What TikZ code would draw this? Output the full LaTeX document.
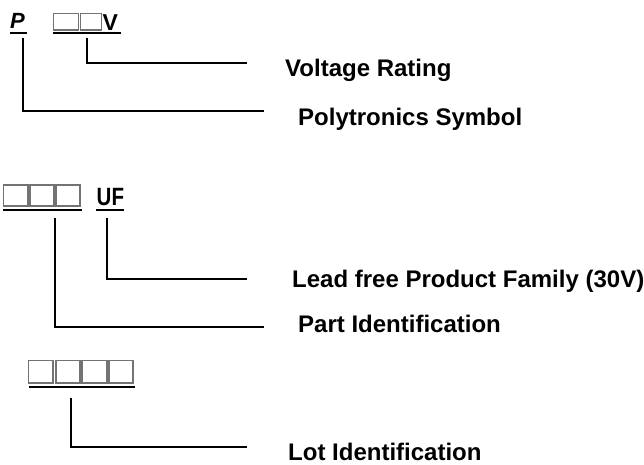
\documentclass[tikz,border=0pt]{standalone}
\usepackage{fontspec}
\setmainfont{Liberation Sans}
\begin{document}
\begin{tikzpicture}[x=1pt,y=-1pt,
  lbl/.style={anchor=base west,inner sep=0pt,font=\fontsize{24}{28}\selectfont\bfseries},
  code/.style={anchor=base west,inner sep=0pt,font=\fontsize{23}{28}\selectfont\bfseries},
  cbox/.style={draw={rgb,255:red,115;green,115;blue,115},line width=1.3pt},
  uline/.style={line width=2pt},
  conn/.style={line width=1.5pt}]
\useasboundingbox (0,0) rectangle (644,464);

% ---- row 1 : P  [][]V
\node[code,font=\fontsize{22}{26}\selectfont\bfseries\itshape] (p) at (10,28) {P};
\draw[uline] (10,32.5) -- (27,32.5);
\draw[cbox] (53.5,13.5) rectangle (78.5,30);
\draw[cbox] (80.5,13.5) rectangle (101.5,30);
\node[code] (v) at (102.5,30) {V};
\draw[uline] (53,32.5) -- (121,32.5);

\node[lbl] (volt) at (285,76) {Voltage Rating};
\node[lbl] (poly) at (298,125) {Polytronics Symbol};

\coordinate (vtop) at (87,38);
\coordinate (vend) at (247,63);
\coordinate (ptop) at (23,38);
\coordinate (pend) at (264,111);
\draw[conn] (vtop) |- (vend);
\draw[conn] (ptop) |- (pend);

% ---- row 2 : [][][] UF
\draw[cbox] (3.5,185) rectangle (28,206);
\draw[cbox] (30,185) rectangle (54,206);
\draw[cbox] (56,185) rectangle (80,206);
\draw[uline] (3,210) -- (82,210);
\node[code,font=\fontsize{25}{28}\selectfont\bfseries] (uf) at (96.5,205.5) {\scalebox{0.82}[1]{UF}};
\draw[uline] (96,210) -- (124,210);

\node[lbl] (lead) at (292,287) {Lead free Product Family (30V)};
\node[lbl] (part) at (298,332) {Part Identification};

\coordinate (uftop) at (107,218);
\coordinate (ufend) at (247,279);
\coordinate (pttop) at (55,218);
\coordinate (ptend) at (264,327);
\draw[conn] (uftop) |- (ufend);
\draw[conn] (pttop) |- (ptend);

% ---- row 3 : [][][][]
\draw[cbox] (28.5,360.5) rectangle (53,383);
\draw[cbox] (56,360.5) rectangle (80,383);
\draw[cbox] (82,360.5) rectangle (107,383);
\draw[cbox] (109,360.5) rectangle (133,383);
\draw[uline] (29,387) -- (135,387);

\node[lbl] (lot) at (288,460) {Lot Identification};

\coordinate (lttop) at (71,398);
\coordinate (ltend) at (247,447);
\draw[conn] (lttop) |- (ltend);
\end{tikzpicture}
\end{document}
